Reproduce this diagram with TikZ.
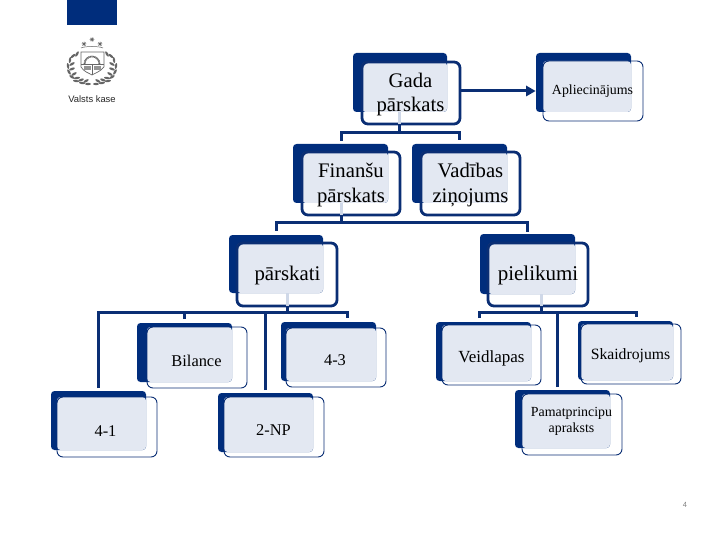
\documentclass[tikz,border=0pt]{standalone}
\usepackage{fontspec}
\setmainfont{Liberation Serif}
\newfontfamily\logofont{Liberation Sans}
\definecolor{navy}{HTML}{002D7C}
\definecolor{linenavy}{HTML}{0A2E74}
\definecolor{panel}{HTML}{E3E8F2}
\definecolor{stemlight}{HTML}{CFD8E8}
\definecolor{loggrey}{HTML}{666666}
\tikzset{
  backbox/.style={fill=navy,rounded corners=3.5pt,inner sep=0,outer sep=0},
  panelbox/.style={fill=panel,rounded corners=3.5pt,inner sep=0,outer sep=0},
  thickbox/.style={draw=linenavy,line width=2.8pt,rounded corners=6pt,inner sep=0,outer sep=0},
  thinbox/.style={draw=linenavy,line width=0.9pt,rounded corners=6pt,inner sep=0,outer sep=0},
  conn/.style={draw=linenavy,line width=3pt},
  stemhi/.style={draw=stemlight,line width=3pt},
  label/.style={inner sep=0,align=center,text=black,font=\fontsize{#1}{#1}\selectfont},
  logoline/.style={draw=loggrey,line width=0.5pt},
}
\newcommand{\orgbox}[9]{%
  \pgfmathsetmacro{\bw}{#4-#2}\pgfmathsetmacro{\bh}{#5-#3}%
  \pgfmathsetmacro{\bx}{(#4+#2)/2}\pgfmathsetmacro{\by}{(#5+#3)/2}%
  \pgfmathsetmacro{\pw}{#4-#6}\pgfmathsetmacro{\ph}{#5-#7}%
  \pgfmathsetmacro{\px}{(#4+#6)/2}\pgfmathsetmacro{\py}{(#5+#7)/2}%
  \node[backbox,minimum width=\bw pt,minimum height=\bh pt] (#1-back) at (\bx,\by) {};%
  \node[panelbox,minimum width=\pw pt,minimum height=\ph pt] (#1-panel) at (\px,\py) {};%
  \pgfmathsetmacro{\ow}{#8-#6}\pgfmathsetmacro{\oh}{#9-#7}%
  \pgfmathsetmacro{\ox}{(#8+#6)/2}\pgfmathsetmacro{\oy}{(#9+#7)/2}%
  \node[orgstyle,minimum width=\ow pt,minimum height=\oh pt] (#1) at (\ox,\oy) {};%
}
\begin{document}
\begin{tikzpicture}[x=1pt,y=-1pt]
\useasboundingbox (0,0) rectangle (720,540);
% header block
\node[fill=navy,minimum width=50pt,minimum height=25pt,inner sep=0,outer sep=0] (header) at (92,12.5) {};
% logo
\begin{scope}[logoline]
  \draw[line width=0.7pt] (81,52) -- (81,67) .. controls (84,72) and (89,73) .. (92,75) .. controls (95,73) and (100,72) .. (104,67) -- (104,52) -- cycle;
  \draw[line width=1.8pt,dash pattern=on 0.9pt off 0.5pt] (84.5,64) arc (180:360:7.5);
  \draw (81,64) -- (104,64) (92,64) -- (92,75);
  \fill[loggrey!70] (84,66) rectangle (90.5,70);
  \fill[loggrey!70] (94,66) rectangle (101,70);
  \foreach \sx/\sy in {84/44,92/39.5,100/44}
    \draw (\sx-2.4,\sy) -- (\sx+2.4,\sy) (\sx,\sy-2.4) -- (\sx,\sy+2.4) (\sx-1.6,\sy-1.6) -- (\sx+1.6,\sy+1.6) (\sx-1.6,\sy+1.6) -- (\sx+1.6,\sy-1.6);
  \draw (81,48) .. controls (85,46) and (99,46) .. (103,48);
  \foreach \lx/\ly/\la in {77/54/60,73/56/40,70/60/80,72/64/30,68/66/100,72/69/20,69/72/120,74/74/30,72/77/150,77/78/10,76/81/170,81/80/20,82/83/170,86/81/30,88/84/0}{
    \fill[loggrey,rotate around={\la:(\lx,\ly)}] (\lx,\ly) ellipse (3pt and 1.2pt);
  }
  \foreach \lx/\ly/\la in {107/54/120,111/56/140,114/60/100,112/64/150,116/66/80,112/69/160,115/72/60,110/74/150,112/77/30,107/78/170,108/81/10,103/80/160,102/83/10,98/81/150,96/84/0}{
    \fill[loggrey,rotate around={\la:(\lx,\ly)}] (\lx,\ly) ellipse (3pt and 1.2pt);
  }
\end{scope}
\node[inner sep=0,font=\logofont\fontsize{9.4}{9.4}\selectfont,text=black!85] (logotext) at (92,99) {Valsts kase};
% boxes
\tikzset{orgstyle/.style={thickbox}}
\orgbox{gada}{353}{53}{447}{112}{362}{62}{460}{124}
\orgbox{fin}{293}{144}{388}{203}{302}{152}{400}{215}
\orgbox{vad}{412}{144}{507}{203}{421}{152}{520}{215}
\orgbox{par}{229}{235}{323}{293}{237}{243}{337}{306}
\orgbox{pie}{480}{234}{575}{294}{488}{243}{588}{306}
\tikzset{orgstyle/.style={thinbox}}
\orgbox{apl}{536}{53}{631}{112}{543}{61}{643}{121}
\orgbox{bil}{137}{323}{232}{382}{147}{327}{247}{388}
\orgbox{for}{281}{322}{376}{381}{286}{328}{386}{387}
\orgbox{one}{51}{391}{146}{450}{57}{397}{157}{457}
\orgbox{np}{218}{393}{313}{452}{224}{397}{324}{457}
\orgbox{vei}{436}{322}{531}{381}{442}{325}{541}{385}
\orgbox{ska}{578}{321}{673}{380}{581}{324}{681}{384}
\orgbox{pam}{515}{390}{610}{448}{522}{394}{622}{455}
% labels
\node[label=20.7] (t-gada) at (410.5,94.5) {Gada\\[3.5pt]pārskats};
\node[label=20.7] (t-fin) at (351,185) {Finanšu\\[3.5pt]pārskats};
\node[label=20.7] (t-vad) at (470.5,185) {Vadības\\[3.5pt]ziņojums};
\node[label=13.9] (t-apl) at (592.5,91) {Apliecinājums};
\node[label=20.8] (t-par) at (287.5,275) {pārskati};
\node[label=21] (t-pie) at (538,275) {pielikumi};
\node[label=16.4] (t-bil) at (196.5,360.5) {Bilance};
\node[label=16.4] (t-for) at (335,360.5) {4-3};
\node[label=16.4] (t-one) at (105.5,431) {4-1};
\node[label=16.4] (t-np) at (273.5,430) {2-NP};
\node[label=17] (t-vei) at (491.5,358) {Veidlapas};
\node[label=15.7] (t-ska) at (630.5,355.5) {Skaidrojums};
\node[label=13.9] (t-pam) at (571.5,421.5) {Pamatprincipu\\[2.5pt]apraksts};
\node[inner sep=0,font=\logofont\fontsize{7.5}{7.5}\selectfont,text=black!50] (page) at (685,504.5) {4};
% light stems inside the boxes
\coordinate (s-gada) at (399,133);
\coordinate (s-fin) at (341,222.5);
\coordinate (s-par) at (287,312);
\coordinate (s-pie) at (541,312);
\draw[stemhi] (gada-back.south -| s-gada) -- (gada.south -| s-gada);
\draw[stemhi] (fin-back.south -| s-fin) -- (fin.south -| s-fin);
\draw[stemhi] (par-back.south -| s-par) -- (par.south -| s-par);
\draw[stemhi] (pie-back.south -| s-pie) -- (pie.south -| s-pie);
% connectors
\coordinate (e-fin) at (341,141);
\coordinate (e-vad) at (459,140);
\draw[conn] (gada.south -| s-gada) -- (s-gada);
\draw[conn] (e-fin) -- (s-gada -| e-fin) -- (s-gada -| e-vad) -- (e-vad);
\coordinate (e-par) at (276,231);
\coordinate (e-pie) at (527,232);
\draw[conn] (fin.south -| s-fin) -- (s-fin);
\draw[conn] (e-par) -- (s-fin -| e-par) -- (s-fin -| e-pie) -- (e-pie);
\coordinate (e-one) at (98,388);
\coordinate (e-bil) at (184,319);
\coordinate (e-np) at (265,390);
\coordinate (e-for) at (347,318);
\draw[conn] (par.south -| s-par) -- (s-par);
\draw[conn] (e-one) -- (s-par -| e-one) -- (s-par -| e-for) -- (e-for);
\draw[conn] (e-bil) -- (s-par -| e-bil);
\draw[conn] (e-np) -- (s-par -| e-np);
\coordinate (e-vei) at (479,318);
\coordinate (e-pam) at (557,387);
\coordinate (e-ska) at (636,317);
\draw[conn] (pie.south -| s-pie) -- (s-pie);
\draw[conn] (e-vei) -- (s-pie -| e-vei) -- (s-pie -| e-ska) -- (e-ska);
\draw[conn] (e-pam) -- (s-pie -| e-pam);
% arrow
\coordinate (a-y) at (0,91);
\coordinate (a-tip) at (535.5,91);
\draw[conn] (gada.east |- a-y) -- (527,91);
\fill[linenavy] (526,85.5) -- (a-tip) -- (526,96.5) -- cycle;
\end{tikzpicture}
\end{document}
